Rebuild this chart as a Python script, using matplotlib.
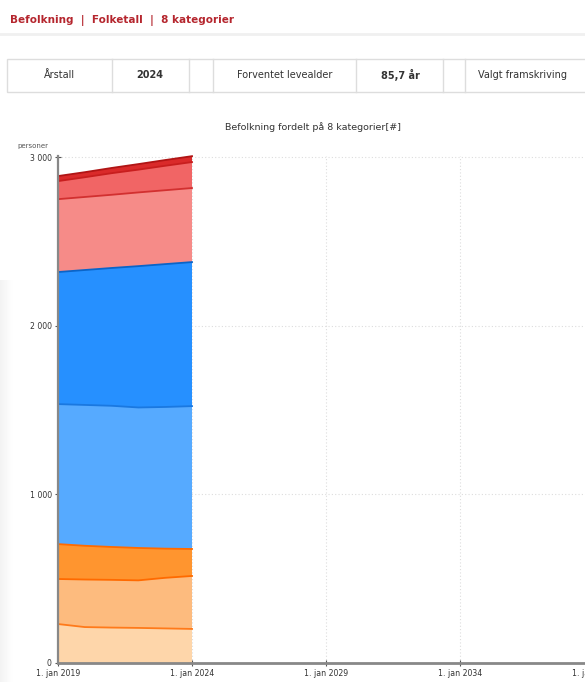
import numpy as np
import matplotlib
matplotlib.use("Agg")
import matplotlib.pyplot as plt
from matplotlib.patches import Rectangle
from matplotlib.lines import Line2D

# data (persons per age group)
years = [2019, 2020, 2021, 2022, 2023, 2024]
groups = ['0-5 år', '6-15 år', '16-19 år', '20-44 år', '45-66 år', '67-79 år', '80-89 år', '90 år og eldre']
g0_5 = [231, 213, 210, 208, 205, 202]
g6_15 = [267, 282, 283, 282, 300, 314]
g16_19 = [207, 200, 195, 192, 173, 160]
g20_44 = [830, 835, 837, 833, 840, 847]
g45_66 = [783, 800, 817, 838, 847, 854]
g67_79 = [432, 433, 434, 437, 438, 439]
g80_89 = [107, 117, 128, 135, 145, 154]
g90 = [30, 30, 31, 33, 34, 35]
xticks = [2019, 2024, 2029, 2034, 2039]
xticklabels = ['1. jan 2019', '1. jan 2024', '1. jan 2029', '1. jan 2034', '1. jan 2039']
yticks = [0, 1000, 2000, 3000]
yticklabels = ['0', '1 000', '2 000', '3 000']

fill_colors = ['#FED6AA', '#FDBB7E', '#FF952F', '#56AAFF', '#2690FF', '#F68B88', '#F16565', '#DA2A2A']
edge_colors = ['#FF7A1A', '#FF6A00', '#FF6A00', '#1A78E0', '#0A64C8', '#D23030', '#C81E1E', '#B01515']

W, H = 585, 682
fig = plt.figure(figsize=(W / 100, H / 100), dpi=100)
fig.patch.set_facecolor('white')
plt.rcParams['font.family'] = ['DejaVu Sans']


def fx(px):
    return px / W


def fy(py):
    return 1 - py / H


# page header
fig.text(fx(10), fy(21), 'Befolkning  |  Folketall  |  8 kategorier', color='#B5262E',
         fontsize=7.5, fontweight='bold', va='center', ha='left')
fig.add_artist(Line2D([fx(0), fx(585)], [fy(34), fy(34)], color='#F0F0F0', lw=2))

# info table
fig.add_artist(Rectangle((fx(7), fy(92)), fx(600) - fx(7), fy(59) - fy(92), transform=fig.transFigure,
                         fill=False, edgecolor='#DDDDDD', lw=1))
for xd in [112, 189, 213, 356, 443, 465]:
    fig.add_artist(Line2D([fx(xd), fx(xd)], [fy(59), fy(92)], color='#DDDDDD', lw=1))
cells = [(60, 'Årstall', 'normal'), (150, '2024', 'bold'), (285, 'Forventet levealder', 'normal'),
         (400, '85,7 år', 'bold'), (522, 'Valgt framskriving', 'normal')]
for cx, txt, w in cells:
    fig.text(fx(cx), fy(75), txt, fontsize=7, fontweight=w, color='#333333', ha='center', va='center')

# faint grey gradient at the left edge
gax = fig.add_axes([0, 0, fx(13), fy(280)])
grad = np.linspace(0.95, 1.0, 50).reshape(1, -1)
gax.imshow(grad, cmap='gray', vmin=0, vmax=1, aspect='auto')
gax.axis('off')

# chart title
fig.text(fx(313), fy(127), 'Befolkning fordelt på 8 kategorier[#]', fontsize=6.8, color='#333333',
         ha='center', va='center')

# chart axes; right edge runs past the picture
left_px, right_px, top_px, bot_px = 58, 625, 156, 663
ax = fig.add_axes([fx(left_px), fy(bot_px), fx(right_px) - fx(left_px), fy(top_px) - fy(bot_px)])
px_per_year = (192 - 58) / 5
ax.set_xlim(2019, 2019 + (right_px - left_px) / px_per_year)
px_per_unit = (663 - 157) / 3000
ax.set_ylim(0, (bot_px - top_px) / px_per_unit)

series = [g0_5, g6_15, g16_19, g20_44, g45_66, g67_79, g80_89, g90]
ax.stackplot(years, *series, colors=fill_colors, labels=groups, lw=0, clip_on=False)
cum = np.cumsum(np.array(series), axis=0)
for i in range(len(series)):
    ax.plot(years, cum[i], color=edge_colors[i], lw=1.3, clip_on=False)

ax.set_xticks(xticks)
ax.set_xticklabels(xticklabels, fontsize=5.6, color='#333333')
ax.set_yticks(yticks)
ax.set_yticklabels(yticklabels, fontsize=5.6, color='#333333')
ax.tick_params(axis='both', direction='inout', length=5, width=0.8, colors='#555555', pad=2)
for lab in ax.get_xticklabels() + ax.get_yticklabels():
    lab.set_color('#333333')
ax.grid(True, color='#DDDDDD', lw=0.8, ls=(0, (1, 2)))
ax.set_axisbelow(True)
for s in ['top', 'right']:
    ax.spines[s].set_visible(False)
ax.spines['left'].set_color('#888888')
ax.spines['left'].set_linewidth(1.6)
ax.spines['bottom'].set_color('#888888')
ax.spines['bottom'].set_linewidth(2)
ax.set_facecolor('none')

fig.text(fx(17), fy(146), 'personer', fontsize=5, color='#555555', ha='left', va='center')

fig.savefig('out.png', dpi=100)
